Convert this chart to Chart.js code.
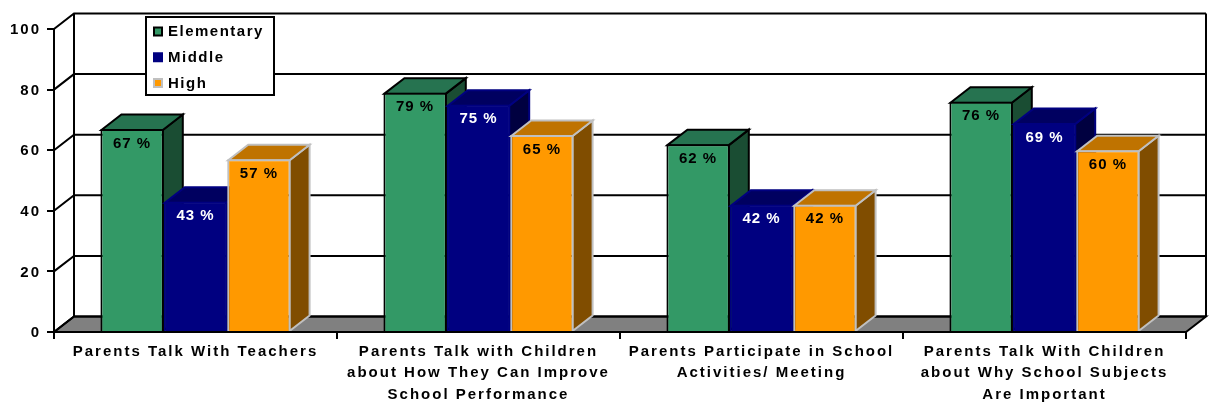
<!DOCTYPE html>
<html>
<head>
<meta charset="utf-8">
<title>Parent involvement</title>
<style>
    html, body { margin: 0; padding: 0; background: #fff; }
    canvas { display: block; }
</style>
<script src="https://cdn.jsdelivr.net/npm/chart.js@4/dist/chart.umd.js"></script>
</head>
<body>
<canvas id="bar-chart" width="1209" height="403"></canvas>
<script>
var categories = [
    ['Parents Talk With Teachers'],
    ['Parents Talk with Children', 'about How They Can Improve', 'School Performance'],
    ['Parents Participate in School', 'Activities/ Meeting'],
    ['Parents Talk With Children', 'about Why School Subjects', 'Are Important']
];
var elementary = [67, 79, 62, 76];
var middle = [43, 75, 42, 69];
var high = [57, 65, 42, 60];
var yTicks = [0, 20, 40, 60, 80, 100];

var FONT = '"Liberation Sans", Arial, sans-serif';
var DEPTH_X = 20;
var DEPTH_Y = 15.5;

var shades = [
    { front: '#339966', top: '#267350', side: '#1a4d33', border: '#000000', text: '#000000' },
    { front: '#000080', top: '#000060', side: '#000040', border: '#000080', text: '#ffffff' },
    { front: '#ff9900', top: '#bf7300', side: '#804d00', border: '#c0c0c0', text: '#000000' }
];

function poly(ctx, pts, fill, stroke, width) {
    ctx.beginPath();
    ctx.moveTo(pts[0][0], pts[0][1]);
    for (var i = 1; i < pts.length; i++) {
        ctx.lineTo(pts[i][0], pts[i][1]);
    }
    if (fill) {
        ctx.closePath();
        ctx.fillStyle = fill;
        ctx.fill();
    }
    if (stroke) {
        ctx.strokeStyle = stroke;
        ctx.lineWidth = width;
        ctx.stroke();
    }
}

var threeD = {
    id: 'threeD',

    beforeDraw: function (chart) {
        chart.ctx.letterSpacing = '2px';
    },

    // back walls, grid and floor
    beforeDatasetsDraw: function (chart) {
        var ctx = chart.ctx;
        var a = chart.chartArea;
        var y = chart.scales.y;
        var backTop = y.getPixelForValue(100) - DEPTH_Y;
        var backBottom = y.getPixelForValue(0) - DEPTH_Y;
        var backLeft = a.left + DEPTH_X;
        var backRight = a.right + DEPTH_X;

        ctx.save();
        poly(ctx, [[a.left, a.bottom], [backLeft, backBottom], [backRight, backBottom], [a.right, a.bottom]], '#808080', '#000', 2);
        yTicks.forEach(function (t) {
            var py = y.getPixelForValue(t);
            poly(ctx, [[a.left, py], [backLeft, py - DEPTH_Y], [backRight, py - DEPTH_Y]], null, '#000', 2);
        });
        poly(ctx, [[backLeft, backBottom], [backLeft, backTop]], null, '#000', 2);
        poly(ctx, [[backRight, backBottom], [backRight, backTop]], null, '#000', 2);
        ctx.restore();
    },

    // chart.js draws last dataset first, we need Elementary at the back
    beforeDatasetDraw: function () {
        return false;
    },

    afterDatasetsDraw: function (chart) {
        var ctx = chart.ctx;
        chart.data.datasets.forEach(function (ds, i) {
            var s = shades[i];
            var meta = chart.getDatasetMeta(i);
            ctx.save();
            meta.data.forEach(function (bar) {
                var l = bar.x - bar.width / 2 + 1;
                var r = bar.x + bar.width / 2 - 1;
                var t = bar.y + 1;
                var b = bar.base;
                poly(ctx, [[r, b], [r + DEPTH_X, b - DEPTH_Y], [r + DEPTH_X, t - DEPTH_Y], [r, t]], s.side, s.border, 2);
                poly(ctx, [[l, t], [l + DEPTH_X, t - DEPTH_Y], [r + DEPTH_X, t - DEPTH_Y], [r, t]], s.top, s.border, 2);
            });
            ctx.restore();
            meta.controller.draw();
        });

        ctx.save();
        ctx.font = 'bold 15px ' + FONT;
        ctx.letterSpacing = '1px';
        ctx.textAlign = 'center';
        ctx.textBaseline = 'middle';
        chart.data.datasets.forEach(function (ds, i) {
            ctx.fillStyle = shades[i].text;
            chart.getDatasetMeta(i).data.forEach(function (bar, j) {
                ctx.fillText(ds.data[j] + ' %', bar.x, bar.y + 14.5);
            });
        });
        ctx.restore();
    },

    // legend sits on top of the wall
    afterDraw: function (chart) {
        var ctx = chart.ctx;
        ctx.save();
        ctx.fillStyle = '#fff';
        ctx.fillRect(146, 17, 128, 78);
        ctx.strokeStyle = '#000';
        ctx.lineWidth = 2;
        ctx.strokeRect(146, 17, 128, 78);
        ctx.font = 'bold 15px ' + FONT;
        ctx.letterSpacing = '1.5px';
        ctx.textBaseline = 'middle';
        chart.data.datasets.forEach(function (ds, i) {
            var rowY = 31.5 + i * 25.75;
            ctx.fillStyle = shades[i].front;
            ctx.fillRect(154, rowY - 4, 8, 8);
            ctx.strokeStyle = shades[i].border;
            ctx.lineWidth = 2;
            ctx.strokeRect(154, rowY - 4, 8, 8);
            ctx.fillStyle = '#000';
            ctx.fillText(ds.label, 168, rowY + 0.5);
        });
        ctx.restore();
    }
};

function dataset(label, values, i) {
    return {
        label: label,
        data: values,
        backgroundColor: shades[i].front,
        borderColor: shades[i].border,
        borderWidth: 2,
        borderSkipped: 'bottom'
    };
}

new Chart(document.getElementById('bar-chart'), {
    type: 'bar',
    data: {
        labels: categories,
        datasets: [
            dataset('Elementary', elementary, 0),
            dataset('Middle', middle, 1),
            dataset('High', high, 2)
        ]
    },
    options: {
        responsive: false,
        animation: false,
        layout: { padding: { left: 0, right: 23, top: 29, bottom: 0 } },
        categoryPercentage: 0.672,
        barPercentage: 1,
        plugins: {
            legend: { display: false },
            title: { display: false },
            tooltip: { enabled: false }
        },
        scales: {
            x: {
                afterFit: function (scale) { scale.height = 71; },
                grid: { drawOnChartArea: false, color: '#000', lineWidth: 2, tickLength: 7 },
                border: { color: '#000', width: 2, z: 1 },
                ticks: {
                    color: '#000',
                    autoSkip: false,
                    maxRotation: 0,
                    padding: 2,
                    font: { family: FONT, size: 15, weight: 'bold', lineHeight: '21.5px' }
                }
            },
            y: {
                min: 0,
                max: 100,
                afterFit: function (scale) { scale.width = 54; },
                afterBuildTicks: function (scale) {
                    scale.ticks = yTicks.map(function (v) { return { value: v }; });
                },
                grid: { drawOnChartArea: false, color: '#000', lineWidth: 2, tickLength: 7 },
                border: { color: '#000', width: 2 },
                ticks: {
                    color: '#000',
                    padding: 6,
                    labelOffset: 1,
                    font: { family: FONT, size: 15, weight: 'bold' }
                }
            }
        }
    },
    plugins: [threeD]
});
</script>
</body>
</html>
